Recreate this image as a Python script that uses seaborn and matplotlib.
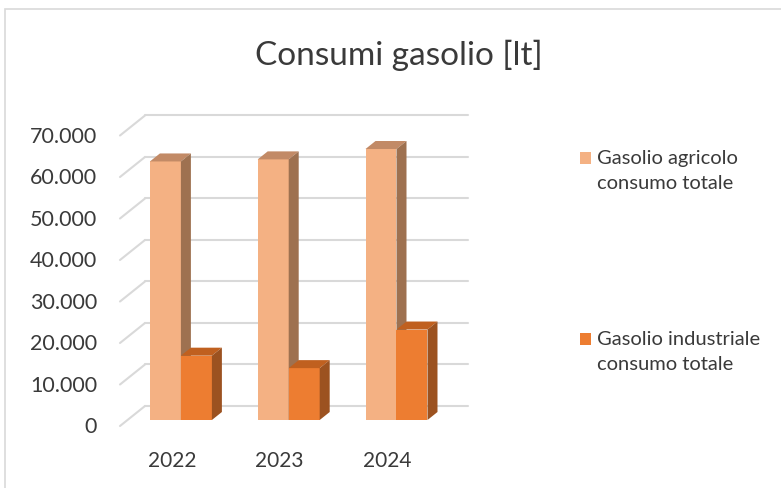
import pandas as pd
import numpy as np
import matplotlib
matplotlib.use("Agg")
import matplotlib.pyplot as plt
from matplotlib.patches import Polygon, Rectangle
import seaborn as sns

# data
years = ["2022", "2023", "2024"]
agricolo = [62300, 62800, 65300]
industriale = [15500, 12500, 21800]
series_names = ["Gasolio agricolo\nconsumo totale", "Gasolio industriale\nconsumo totale"]
yticks = [0, 10000, 20000, 30000, 40000, 50000, 60000, 70000]

front_colors = ["#F4B183", "#ED7D31"]
top_colors = ["#C28A66", "#C0601F"]
side_colors = ["#9E7150", "#9C5220"]
grid_color = "#D9D9D9"
text_color = "#3A3A3A"

df = pd.DataFrame({
    "anno": years * 2,
    "valore": agricolo + industriale,
    "serie": [series_names[0]] * 3 + [series_names[1]] * 3,
})

sns.set_style("white")
plt.rcParams["font.family"] = ["Lato", "DejaVu Sans"]

fig = plt.figure(figsize=(7.81, 4.89), dpi=100)
W, H = 781, 489
# axes = plane of the bar front faces
ax = fig.add_axes([127 / W, (H - 421) / H, 323.4 / W, 332 / H])
sns.barplot(data=df, x="anno", y="valore", hue="serie", palette=front_colors,
            saturation=1, width=0.575, gap=0, linewidth=0, legend=False, ax=ax)
ax.set_xlim(-0.5, 2.5)
ax.set_ylim(0, 80000)
ax.axis("off")

# pixel -> data conversion
p0, p1 = ax.transData.transform([[0, 0], [1, 1]])
px_x = 1 / (p1[0] - p0[0])
px_y = 1 / (p1[1] - p0[1])

# back wall grid + diagonal floor lines
x0, x1 = ax.get_xlim()
for v in yticks:
    ax.plot([x0 + 18 * px_x, x1 + 18 * px_x], [v + 14 * px_y] * 2, color=grid_color,
            lw=1.5, zorder=0, clip_on=False)
    ax.plot([x0 - 7 * px_x, x0 + 18 * px_x], [v - 6 * px_y, v + 14 * px_y],
            color=grid_color, lw=1.5, zorder=0, clip_on=False)
    ax.text(x0 - 30 * px_x, v - 6 * px_y, f"{v:,}".replace(",", "."), ha="right",
            va="center", fontsize=15.5, color=text_color)

# 3D faces of the bars
dx, dy = 10 * px_x, 8 * px_y
n = len(years)
for i, bar in enumerate(ax.patches):
    s = i // n
    bx, bw, bh = bar.get_x(), bar.get_width(), bar.get_height()
    bar.set_zorder(2 + s)
    top = Polygon([(bx, bh), (bx + dx, bh + dy), (bx + bw + dx, bh + dy), (bx + bw, bh)],
                  closed=True, facecolor=top_colors[s], lw=0, zorder=2 + s, clip_on=False)
    side = Polygon([(bx + bw, 0), (bx + bw, bh), (bx + bw + dx, bh + dy), (bx + bw + dx, dy)],
                   closed=True, facecolor=side_colors[s], lw=0, zorder=2 + s, clip_on=False)
    ax.add_patch(top)
    ax.add_patch(side)

for i, y in enumerate(years):
    ax.text(i - 9 * px_x, -40 * px_y, y, ha="center", va="center", fontsize=15,
            color=text_color)

# title
fig.text(399 / W, 1 - 55 / H, "Consumi gasolio [lt]", ha="center", va="center",
         fontsize=24, color=text_color)

# legend entries (Excel spreads them vertically)
for k, (name, col) in enumerate(zip(series_names, front_colors)):
    ytop = [153, 334][k]
    fig.patches.append(Rectangle((580 / W, 1 - (ytop + 12) / H), 11 / W, 12 / H,
                                 facecolor=col, lw=0, transform=fig.transFigure))
    fig.text(597 / W, 1 - (ytop - 3) / H, name, ha="left", va="top", fontsize=14.5,
             color=text_color, linespacing=1.6)

# chart border
fig.patches.append(Rectangle((5 / W, -0.1), 1.2, 1 - 10 / H + 0.1, fill=False,
                             edgecolor="#D9D9D9", lw=1.2, transform=fig.transFigure))

fig.savefig("out.png", dpi=100, facecolor="white")
